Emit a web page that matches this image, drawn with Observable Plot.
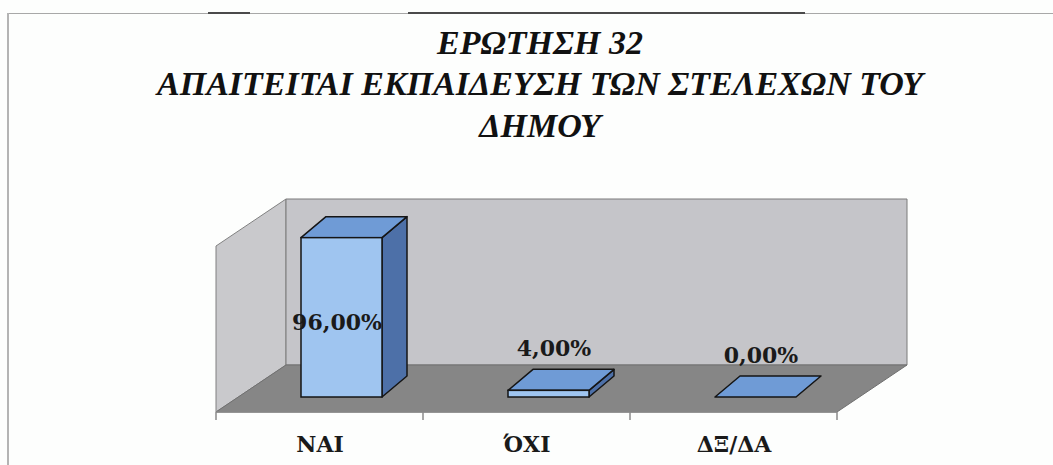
<!DOCTYPE html>
<html>
<head>
<meta charset="utf-8">
<script src="https://cdn.jsdelivr.net/npm/d3@7"></script>
<script src="https://cdn.jsdelivr.net/npm/@observablehq/plot@0.6"></script>
<style>
  html, body { margin: 0; padding: 0; background: #fdfefd; }
  #page { position: relative; width: 1053px; height: 465px; overflow: hidden; }
  #frame-top { position: absolute; left: 7px; top: 13px; right: 0; height: 0; border-top: 1px solid #a8a8a8; }
  #frame-left { position: absolute; left: 7px; top: 13px; bottom: 0; width: 0; border-left: 2px solid #b4b4b4; }
  .scan { position: absolute; top: 12px; height: 2px; background: #4a4a4a; }
  #title { position: absolute; left: 0; top: 0; width: 1053px; height: 150px; padding: 21.75px 0 0 27px; box-sizing: border-box;
           font-family: "Liberation Serif", "Times New Roman", serif; font-weight: bold; font-style: italic;
           font-size: 34px; line-height: 41.5px; color: #111; text-align: center; }
  #title > div { height: 41.5px; white-space: nowrap; }
  #chart { position: absolute; left: 0; top: 150px; }
</style>
</head>
<body>
<div id="page">
  <div id="frame-top"></div>
  <div id="frame-left"></div>
  <div class="scan" style="left:208px;width:42px;"></div>
  <div class="scan" style="left:408px;width:397px;"></div>
  <div id="title"></div>
  <div id="chart"></div>
</div>
<script>
// ---- data ----
const titleLines = ["ΕΡΩΤΗΣΗ 32", "ΑΠΑΙΤΕΙΤΑΙ ΕΚΠΑΙΔΕΥΣΗ ΤΩΝ ΣΤΕΛΕΧΩΝ ΤΟΥ", "ΔΗΜΟΥ"];
const categories = ["ΝΑΙ", "ΌΧΙ", "ΔΞ/ΔΑ"];
const percentages = [96, 4, 0];
const yMax = 100;

// ---- style / layout constants ----
const floorDepth = [70, -47];
const barFront = [22, -15];
const barDepth = [25, -21];
const barInset = 63;
const colFront = "#9fc5f0", colTop = "#6f9bd6", colSide = "#4d70a8";
const labelFont = "'DejaVu Serif', serif";

const fmt = v => d3.format(".2f")(v).replace(".", ",") + "%";
const data = categories.map((c, i) => ({category: c, index: i, value: percentages[i]}));

// ---- title ----
const titleEl = document.getElementById("title");
titleLines.forEach(t => {
  const div = document.createElement("div");
  div.textContent = t;
  titleEl.appendChild(div);
});

// ---- helpers ----
function polygon(g, pts, fill, stroke, sw) {
  g.append("polygon")
    .attr("points", pts.map(p => p.join(",")).join(" "))
    .attr("fill", fill)
    .attr("stroke", stroke)
    .attr("stroke-width", sw)
    .attr("stroke-linejoin", "round");
}

// walls, floor and category axis (frame of the 3D chart)
function walls(index, scales) {
  const x = scales.x, y = scales.y;
  const x0 = x(0), x1 = x(categories.length), y0 = y(0), yT = y(yMax);
  const [dx, dy] = floorDepth;
  const g = d3.create("svg:g");
  polygon(g, [[x0, y0], [x0, yT], [x0 + dx, yT + dy], [x0 + dx, y0 + dy]], "#c9c9cc", "#808080", 1);
  polygon(g, [[x0 + dx, y0 + dy], [x0 + dx, yT + dy], [x1 + dx, yT + dy], [x1 + dx, y0 + dy]], "#c5c5c9", "#7a7a7a", 1);
  polygon(g, [[x0, y0], [x1, y0], [x1 + dx, y0 + dy], [x0 + dx, y0 + dy]], "#868686", "#707070", 1);
  g.append("line").attr("x1", x0).attr("x2", x1).attr("y1", y0).attr("y2", y0)
    .attr("stroke", "#8a8a8a").attr("stroke-width", 1.5);
  for (let i = 0; i <= categories.length; i++) {
    g.append("line").attr("x1", x(i)).attr("x2", x(i)).attr("y1", y0).attr("y2", y0 + 8)
      .attr("stroke", "#8a8a8a").attr("stroke-width", 1.5);
  }
  return g.node();
}

// top and side faces of the 3D bars
function barFaces(index, scales) {
  const x = scales.x, y = scales.y;
  const g = d3.create("svg:g");
  const [bx, by] = barDepth;
  data.forEach(d => {
    const xl = x(d.index) + barInset + barFront[0];
    const xr = x(d.index + 1) - barInset + barFront[0];
    const yb = y(0) + barFront[1];
    const yt = y(d.value) + barFront[1];
    if (yb - yt > 0.5) polygon(g, [[xr, yt], [xr + bx, yt + by], [xr + bx, yb + by], [xr, yb]], colSide, "#151515", 1.5);
    polygon(g, [[xl, yt], [xr, yt], [xr + bx, yt + by], [xl + bx, yt + by]], colTop, "#151515", 1.5);
  });
  return g.node();
}

const chart = Plot.plot({
  width: 1053,
  height: 315,
  marginLeft: 216,
  marginRight: 216,
  marginTop: 96,
  marginBottom: 53,
  x: {type: "linear", domain: [0, categories.length], axis: null},
  y: {type: "linear", domain: [0, yMax], axis: null},
  style: {background: "transparent", overflow: "visible", fontFamily: labelFont},
  marks: [
    walls,
    barFaces,
    Plot.rect(data, {
      x1: "index", x2: d => d.index + 1, y1: 0, y2: "value",
      insetLeft: barInset, insetRight: barInset, dx: barFront[0], dy: barFront[1],
      fill: colFront, stroke: "#151515", strokeWidth: 1.5
    }),
    Plot.text(data.filter(d => d.value >= 50), {
      x: d => d.index + 0.5, y: d => d.value / 2, text: d => fmt(d.value),
      dx: 17, dy: -10, fontSize: 22, fontWeight: "bold", fill: "#1a1a1a"
    }),
    Plot.text(data.filter(d => d.value < 50), {
      x: d => d.index + 0.5, y: "value", text: d => fmt(d.value),
      dx: 27, dy: -57, fontSize: 22, fontWeight: "bold", fill: "#1a1a1a"
    }),
    Plot.text(data, {
      x: d => d.index + 0.5, y: 0, text: "category",
      dy: 32, fontSize: 22, fontWeight: "bold", fill: "#1a1a1a"
    })
  ]
});
document.getElementById("chart").appendChild(chart);
</script>
</body>
</html>
